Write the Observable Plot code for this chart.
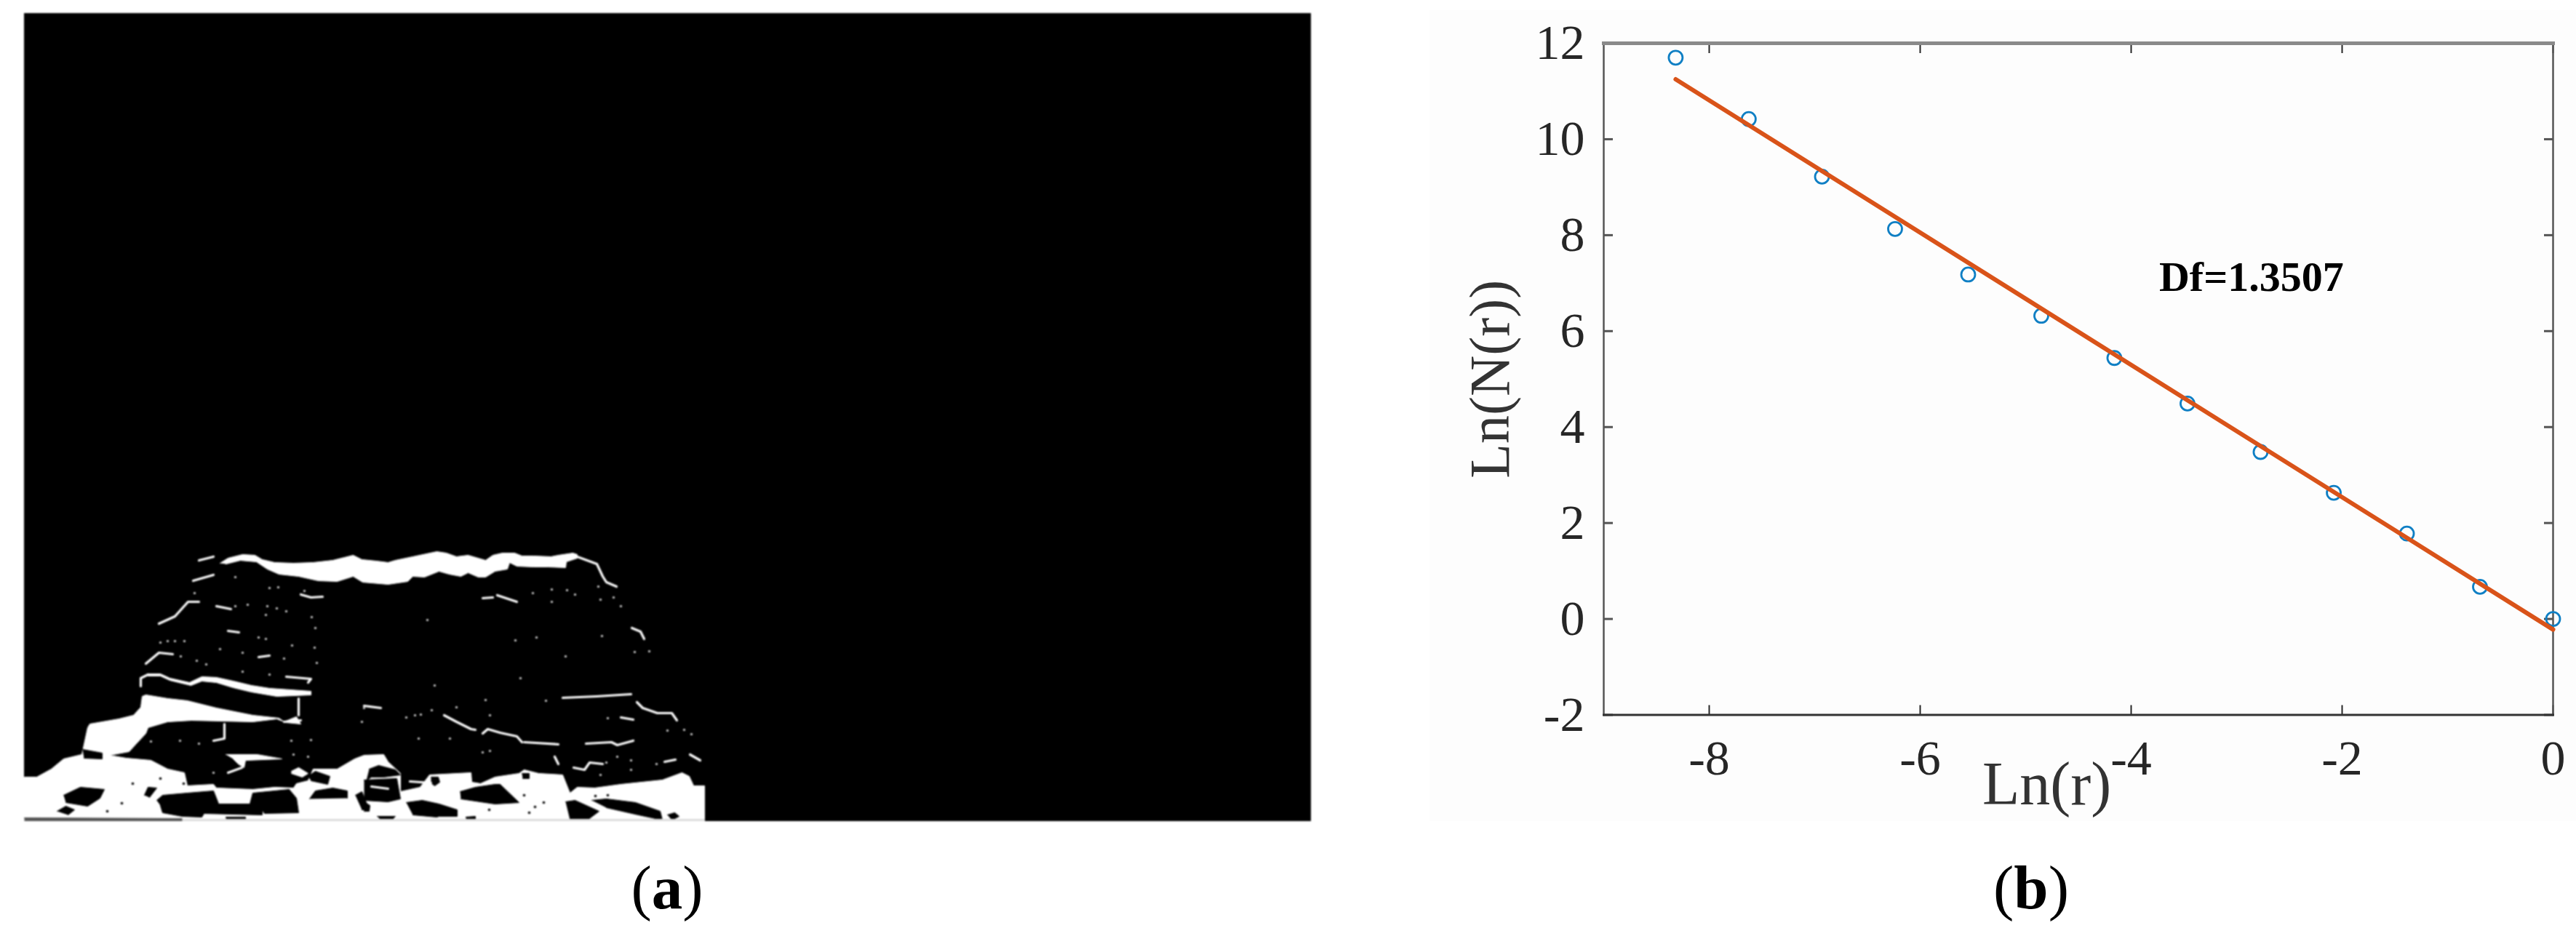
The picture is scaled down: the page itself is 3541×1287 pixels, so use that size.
<!DOCTYPE html>
<html>
<head>
<meta charset="utf-8">
<script src="https://cdn.jsdelivr.net/npm/d3@7"></script>
<script src="https://cdn.jsdelivr.net/npm/@observablehq/plot@0.6"></script>
<style>
html,body{margin:0;padding:0;background:#fff;width:3541px;height:1287px;overflow:hidden}
#a,#b{position:absolute}
#a{left:33px;top:18px;filter:blur(1px)}
#b{left:1965px;top:14px;filter:blur(.7px)}
#b svg text{font-family:"Liberation Serif",serif}
.cap{position:absolute;font-family:"Liberation Serif",serif;font-size:85px;line-height:85px;color:#000;transform:translateX(-50%);white-space:nowrap}
.cap b{font-weight:700}
</style>
</head>
<body>
<div id="a"></div>
<div id="b"></div>
<div class="cap" id="capA" style="left:917px;top:1178px"></div>
<div class="cap" id="capB" style="left:2792px;top:1178px"></div>
<script>
// ---------- panel (b): log-log fit ----------
const lnR  = [-8.318,-7.625,-6.931,-6.238,-5.545,-4.852,-4.159,-3.466,-2.773,-2.079,-1.386,-0.693,0];
const lnN  = [11.70,10.42,9.22,8.13,7.18,6.32,5.44,4.49,3.48,2.63,1.78,0.67,0];
const fitX = [-8.318,0];
const fitY = [11.25,-0.22];
const xTicks = [-8,-6,-4,-2,0];
const yTicks = [-2,0,2,4,6,8,10,12];
const xLabel = "Ln(r)";
const yLabel = "Ln(N(r))";
const dfLabel = "Df=1.3507";
const dfAt = [-2.86,7.12];
const captions = ["a","b"];

// ---------- panel (a): binary fractal image, outlines in image pixels ----------
const massOutline = [[33,1129],[33,1068],[50,1068],[70,1057],[87,1043],[112,1037],[120,1000],[123,995],[163,988],[183,983],[193,972],[195,957],[200,955],[230,960],[257,963],[297,973],[347,983],[383,987],[390,992],[407,985],[413,995],[393,993],[380,988],[347,992],[263,990],[230,992],[203,1000],[200,1008],[187,1022],[177,1033],[150,1038],[173,1042],[207,1045],[230,1057],[253,1062],[257,1080],[293,1078],[297,1083],[347,1085],[377,1082],[403,1083],[407,1077],[423,1073],[430,1057],[463,1057],[487,1043],[500,1038],[527,1037],[533,1047],[550,1063],[550,1088],[577,1082],[590,1065],[647,1062],[648,1075],[660,1077],[680,1068],[713,1063],[720,1058],[740,1063],[773,1065],[783,1090],[793,1082],[817,1083],[853,1078],[910,1072],[937,1062],[947,1067],[953,1080],[968,1080],[968,1129]];
const topBand = [[302,774],[313,767],[333,762],[350,763],[360,769],[377,773],[403,774],[430,773],[457,770],[473,766],[485,763],[497,769],[517,771],[533,773],[543,770],[567,765],[600,758],[613,760],[627,765],[643,763],[667,770],[677,763],[690,760],[707,760],[717,764],[733,764],[757,765],[767,763],[787,760],[793,762],[793,767],[778,772],[777,780],[753,779],[733,779],[710,778],[700,773],[697,782],[680,785],[667,793],[657,793],[643,787],[633,792],[617,789],[603,785],[583,793],[567,792],[560,799],[533,803],[498,800],[485,792],[463,799],[437,798],[410,792],[383,789],[367,782],[352,772],[330,770],[310,775]];
const waveBand = [[203,926],[220,926],[233,932],[260,938],[277,930],[297,931],[320,936],[345,942],[370,946],[427,950],[427,955],[380,957],[345,951],[320,945],[297,938],[277,936],[262,942],[233,935],[220,929],[203,929]];
const whiteBlobs = [
  [[310,1037],[353,1037],[387,1043],[337,1045],[335,1055],[327,1050],[320,1043]],
  [[400,1060],[410,1055],[423,1063],[415,1068],[400,1063]]
];
const blackHoles = [
  [[87,1093],[110,1082],[143,1085],[137,1097],[120,1108],[90,1103]],
  [[78,1115],[90,1108],[102,1113],[93,1120]],
  [[198,1093],[203,1082],[215,1083],[205,1096]],
  [[113,1030],[140,1035],[140,1043],[115,1042]],
  [[215,1100],[223,1093],[257,1090],[293,1087],[297,1097],[300,1105],[343,1105],[347,1090],[397,1085],[407,1097],[410,1117],[363,1118],[360,1113],[360,1120],[280,1118],[277,1123],[250,1122],[223,1117],[220,1107]],
  [[425,1098],[433,1087],[457,1083],[477,1087],[477,1097]],
  [[423,1067],[433,1060],[453,1067],[450,1078],[427,1073]],
  [[488,1093],[497,1088],[507,1113],[497,1113]],
  [[503,1087],[510,1085],[510,1098],[503,1098]],
  [[507,1057],[520,1052],[543,1058],[550,1065],[527,1068],[510,1068],[503,1073]],
  [[500,1072],[545,1070],[550,1098],[533,1102],[500,1100]],
  [[592,1068],[602,1068],[604,1075],[597,1080],[592,1076]],
  [[558,1103],[580,1100],[603,1105],[628,1113],[628,1122],[603,1122],[600,1123],[567,1120]],
  [[518,1122],[543,1122],[538,1127],[523,1127]],
  [[632,1088],[653,1082],[680,1078],[687,1078],[713,1103],[680,1105],[633,1098]],
  [[777,1102],[790,1100],[823,1115],[807,1127],[783,1127]],
  [[813,1100],[833,1098],[873,1103],[907,1115],[910,1127],[877,1120],[833,1110]],
  [[917,1120],[927,1117],[933,1122],[923,1127]],
  [[640,1123],[653,1122],[653,1127],[640,1127]],
  [[500,1102],[508,1107],[507,1115],[500,1115]],
  [[717,1063],[727,1063],[727,1070],[718,1070]],
  [[310,1123],[337,1123],[337,1127],[310,1127]]
];
const darkEdge = [[33,1124],[250,1125],[250,1129],[33,1129]];
const greyEdge = [[250,1126],[968,1126],[968,1129],[250,1129]];
const whiteStrokes = [
  [[193,943],[193,932],[203,927]],
  [[793,765],[820,775],[828,792],[833,800],[847,806]],
  [[390,992],[413,990]],
  [[308,995],[308,1015],[293,1018]],
  [[410,960],[410,983]],
  [[313,1062],[332,1055]],
  [[510,1081],[533,1084]],
  [[563,1074],[592,1076]],
  [[500,970],[523,973]],
  [[610,983],[627,992],[647,1002],[653,1003]],
  [[663,1008],[670,1002],[687,1007],[710,1012],[717,1020]],
  [[720,1020],[767,1023]],
  [[773,959],[820,957],[867,954]],
  [[875,965],[883,973],[903,980],[923,980],[930,990]],
  [[805,1022],[840,1020],[848,1024],[870,1018]],
  [[788,1055],[803,1058],[810,1048],[828,1050]],
  [[762,1040],[767,1050]],
  [[948,1037],[962,1045]],
  [[913,1047],[928,1044]],
  [[853,986],[870,989]],
  [[273,770],[293,765]],
  [[265,798],[293,790]],
  [[218,857],[240,847],[258,827],[273,827]],
  [[297,833],[317,837]],
  [[200,912],[218,897],[237,899]],
  [[413,817],[427,821],[443,820]],
  [[313,867],[328,869]],
  [[355,903],[370,901]],
  [[393,930],[427,933],[423,938]],
  [[663,822],[677,821]],
  [[683,818],[710,827]],
  [[868,863],[880,868],[885,878]]
];
const whiteSpecks = [[323,793],[267,815],[370,808],[382,807],[418,812],[340,831],[323,833],[367,833],[380,836],[393,840],[365,845],[428,848],[433,863],[355,876],[365,878],[401,887],[432,890],[333,897],[390,905],[435,911],[283,913],[333,923],[370,927],[597,942],[587,852],[302,892],[230,881],[240,881],[253,881],[220,883],[248,902],[270,908],[732,815],[758,810],[779,811],[790,817],[822,806],[825,824],[843,821],[853,833],[758,827],[737,876],[708,880],[827,874],[872,896],[892,895],[715,932],[777,902],[578,982],[570,983],[558,986],[593,976],[627,972],[667,962],[673,983],[575,1015],[618,1015],[663,1034],[673,1032],[750,963],[835,987],[917,1004],[940,1003],[950,1009],[867,1058],[825,1065],[867,1045],[848,1040],[833,1048],[902,1050],[207,1019],[247,1018],[273,1022],[400,1018],[427,1017],[500,973],[497,992],[293,1062],[403,1037],[423,1040]];
const blackSpecks = [[220,1070],[252,1077],[182,1077],[167,1104],[147,1115],[720,1093],[735,1109],[747,1103],[672,1113],[727,1117],[818,1094],[835,1093]];

const pick = {x: d => d[0], y: d => d[1]};
const shape = (pts, fill) => Plot.line(pts, {...pick, fill, stroke: fill, strokeWidth: 1, curve: "linear"});

const imageChart = Plot.plot({
  width: 1769, height: 1111,
  margin: 0,
  x: {domain: [33, 1802], axis: null},
  y: {domain: [18, 1129], reverse: true, axis: null},
  marks: [
    Plot.frame({fill: "#000", stroke: "#000"}),
    shape(massOutline, "#fff"),
    shape(topBand, "#fff"),
    shape(waveBand, "#fff"),
    ...whiteBlobs.map(p => shape(p, "#fff")),
    ...blackHoles.map(p => shape(p, "#000")),
    shape(darkEdge, "#555"),
    shape(greyEdge, "#ddd"),
    ...whiteStrokes.map(p => Plot.line(p, {...pick, stroke: "#fff", strokeWidth: 3.2})),
    Plot.dot(whiteSpecks, {...pick, r: 1.6, fill: "#ddd"}),
    Plot.dot(blackSpecks, {...pick, r: 1.8, fill: "#000"})
  ]
});
document.getElementById("a").append(imageChart);

const fitRows = fitX.map((x, i) => ({x, y: fitY[i]}));
const ptRows = lnR.map((x, i) => ({x, y: lnN[i]}));
const ink = "#262626";

const fitChart = Plot.plot({
  width: 1576, height: 1115,
  marginLeft: 239, marginRight: 32, marginTop: 45, marginBottom: 146.5,
  style: {background: "#fdfdfd"},
  x: {domain: [-9, 0], label: null},
  y: {domain: [-2, 12], label: null},
  marks: [
    Plot.axisX({ticks: xTicks, anchor: "bottom", tickSize: 0, tickPadding: 34, fontSize: 68, fill: ink, tickFormat: String}),
    Plot.axisY({ticks: yTicks, anchor: "left", tickSize: 0, tickPadding: 26, fontSize: 68, fill: ink, tickFormat: String}),
    Plot.axisX({ticks: xTicks, anchor: "bottom", tickSize: -13, text: null, stroke: ink, strokeWidth: 2}),
    Plot.axisX({ticks: xTicks, anchor: "top", tickSize: -13, text: null, stroke: ink, strokeWidth: 2}),
    Plot.axisY({ticks: yTicks, anchor: "left", tickSize: -13, text: null, stroke: "#555", strokeWidth: 3}),
    Plot.axisY({ticks: yTicks, anchor: "right", tickSize: -13, text: null, stroke: "#555", strokeWidth: 3}),
    Plot.frame({anchor: "left", stroke: "#555", strokeWidth: 2.5}),
    Plot.frame({anchor: "right", stroke: "#555", strokeWidth: 2.5}),
    Plot.frame({anchor: "top", stroke: "#8a8a8a", strokeWidth: 5}),
    Plot.frame({anchor: "bottom", stroke: "#333", strokeWidth: 3}),
    Plot.dot(ptRows, {x: "x", y: "y", r: 9.5, stroke: "#0f7fc4", strokeWidth: 2.8, fill: "none"}),
    Plot.line(fitRows, {x: "x", y: "y", stroke: "#d95319", strokeWidth: 6}),
    Plot.text([dfLabel], {x: dfAt[0], y: dfAt[1], text: d => d, fontSize: 58, fontWeight: 700, fill: "#000"}),
    Plot.text([xLabel], {x: -4.8, frameAnchor: "bottom", dy: 123, lineAnchor: "bottom", text: d => d, fontSize: 84, fill: "#333"}),
    Plot.text([yLabel], {y: 5, frameAnchor: "left", textAnchor: "middle", dx: -155, rotate: -90, text: d => d, fontSize: 78, fill: "#333"})
  ]
});
document.getElementById("b").append(fitChart);

document.getElementById("capA").innerHTML = "(<b>" + captions[0] + "</b>)";
document.getElementById("capB").innerHTML = "(<b>" + captions[1] + "</b>)";
</script>
</body>
</html>
